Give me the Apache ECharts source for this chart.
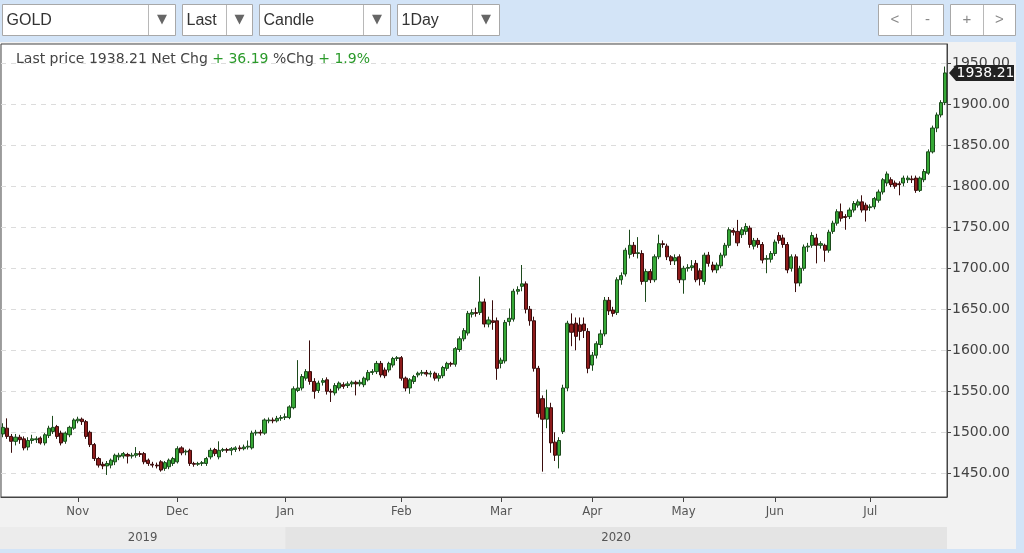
<!DOCTYPE html>
<html><head><meta charset="utf-8">
<script src="https://cdn.jsdelivr.net/npm/echarts@6/dist/echarts.min.js"></script>
<style>html,body{margin:0;padding:0;background:#d3e4f7}#c{width:1024px;height:553px}</style>
</head><body><div id="c"></div><script>
// ---- data ----
const instrument = 'GOLD', priceField = 'Last', chartType = 'Candle', period = '1Day';
const navButtons = ['<', '-', '+', '>'];
const monthNames = ['Nov','Dec','Jan','Feb','Mar','Apr','May','Jun','Jul'];
const monthIdx   = [18, 42, 68, 96, 120, 142, 164, 186, 209];
const yearNames  = ['2019','2020'];
const yearStartIdx = [0, 68];
const yTicks = [1450,1500,1550,1600,1650,1700,1750,1800,1850,1900,1950];
const lastPrice = 1938.21, netChg = 36.19, pctChg = 1.9;
// [open, close, low, high] per daily candle
const candles = [
[1498,1506,1494,1511],[1505,1495,1492,1517],[1495,1489,1475,1498],[1489,1494,1484,1498],[1494,1491,1486,1497],
[1492,1481,1478,1495],[1482,1490,1478,1494],[1490,1492,1486,1497],[1491,1492,1487,1495],[1493,1487,1485,1495],
[1487,1497,1484,1499],[1496,1505,1493,1508],[1501,1506,1498,1520],[1507,1495,1492,1509],[1499,1487,1484,1502],
[1489,1499,1486,1501],[1497,1506,1494,1508],[1505,1515,1503,1517],[1514,1516,1511,1519],[1516,1513,1509,1518],
[1513,1495,1492,1515],[1500,1485,1482,1502],[1485,1468,1465,1487],[1468,1460,1457,1470],[1461,1459,1455,1464],
[1459,1462,1448,1465],[1460,1466,1456,1468],[1464,1472,1460,1474],[1470,1472,1466,1475],[1471,1474,1468,1476],
[1473,1471,1462,1475],[1471,1472,1468,1475],[1472,1474,1469,1482],[1474,1473,1470,1477],[1474,1464,1461,1476],
[1466,1462,1459,1468],[1461,1460,1457,1464],[1460,1459,1456,1463],[1464,1454,1452,1466],[1456,1463,1453,1465],
[1458,1466,1455,1468],[1462,1468,1459,1470],[1464,1480,1462,1483],[1481,1475,1472,1483],[1476,1477,1472,1479],
[1478,1462,1459,1480],[1462,1461,1458,1464],[1461,1462,1459,1464],[1462,1463,1459,1465],[1462,1468,1459,1470],
[1470,1478,1467,1481],[1479,1474,1471,1481],[1470,1478,1467,1489],[1478,1479,1476,1481],[1479,1478,1475,1481],
[1478,1480,1472,1482],[1479,1481,1476,1483],[1481,1480,1477,1484],[1480,1482,1478,1485],[1482,1483,1479,1490],
[1481,1499,1479,1502],[1499,1500,1496,1503],[1500,1499,1496,1503],[1499,1515,1497,1517],[1514,1515,1511,1518],
[1515,1514,1511,1518],[1514,1517,1512,1520],[1517,1518,1514,1521],[1518,1519,1515,1523],[1518,1531,1516,1533],
[1530,1553,1528,1556],[1551,1554,1549,1588],[1554,1568,1551,1571],[1566,1574,1563,1577],[1574,1562,1558,1612],
[1562,1550,1541,1566],[1551,1560,1548,1563],[1561,1563,1557,1566],[1564,1550,1546,1567],[1550,1549,1537,1553],
[1548,1557,1545,1560],[1554,1560,1551,1562],[1558,1556,1553,1561],[1557,1559,1554,1562],[1559,1561,1555,1563],
[1561,1559,1545,1563],[1559,1561,1556,1564],[1558,1566,1555,1568],[1564,1573,1562,1576],[1573,1574,1570,1577],
[1574,1584,1571,1587],[1584,1570,1567,1587],[1576,1569,1566,1579],[1576,1584,1573,1586],[1582,1590,1579,1592],
[1590,1591,1587,1593],[1591,1566,1563,1593],[1566,1554,1550,1568],[1554,1564,1547,1566],[1562,1568,1559,1570],
[1570,1572,1567,1574],[1572,1573,1569,1576],[1573,1571,1568,1576],[1571,1572,1567,1575],[1572,1566,1563,1574],
[1566,1569,1562,1572],[1569,1579,1566,1581],[1578,1584,1575,1586],[1584,1583,1580,1586],[1583,1602,1580,1604],
[1601,1614,1598,1617],[1614,1624,1611,1627],[1621,1645,1618,1648],[1644,1646,1640,1650],[1646,1645,1641,1652],
[1646,1659,1643,1690],[1659,1632,1628,1663],[1632,1637,1628,1641],[1636,1634,1625,1661],[1636,1578,1564,1640],
[1584,1588,1578,1591],[1587,1634,1584,1637],[1635,1639,1630,1651],[1638,1672,1635,1675],[1672,1674,1668,1678],
[1678,1681,1672,1704],[1681,1650,1645,1684],[1650,1636,1630,1654],[1636,1578,1574,1641],[1578,1523,1518,1581],
[1541,1516,1452,1545],[1516,1530,1505,1552],[1530,1487,1475,1536],[1488,1472,1465,1500],[1472,1490,1456,1494],
[1501,1554,1498,1558],[1554,1633,1550,1636],[1632,1622,1605,1645],[1633,1617,1600,1640],[1631,1623,1612,1640],
[1632,1624,1615,1640],[1623,1578,1572,1627],[1582,1594,1575,1598],[1594,1608,1590,1611],[1607,1620,1603,1625],
[1620,1661,1617,1665],[1661,1648,1643,1665],[1649,1645,1641,1653],[1646,1686,1643,1689],[1686,1691,1680,1695],
[1693,1722,1690,1725],[1717,1728,1712,1747],[1728,1718,1714,1732],[1718,1719,1712,1738],[1718,1684,1680,1722],
[1684,1696,1659,1699],[1696,1686,1682,1699],[1686,1714,1683,1717],[1714,1730,1711,1741],[1730,1729,1725,1734],
[1727,1714,1710,1730],[1714,1709,1704,1716],[1709,1713,1704,1717],[1714,1686,1682,1717],[1686,1700,1669,1703],
[1700,1701,1696,1705],[1701,1703,1697,1710],[1706,1686,1683,1710],[1697,1687,1679,1700],[1684,1716,1680,1719],
[1716,1706,1702,1720],[1704,1698,1695,1708],[1698,1704,1694,1707],[1703,1716,1700,1719],[1716,1728,1713,1731],
[1728,1747,1725,1750],[1746,1744,1740,1749],[1745,1731,1727,1759],[1741,1747,1737,1750],[1745,1751,1741,1755],
[1749,1729,1725,1752],[1727,1734,1723,1737],[1734,1729,1725,1737],[1729,1710,1706,1732],[1711,1712,1694,1716],
[1711,1718,1707,1721],[1718,1732,1715,1735],[1740,1734,1730,1744],[1737,1729,1725,1741],[1729,1698,1694,1732],
[1700,1714,1696,1717],[1714,1682,1671,1717],[1682,1700,1678,1703],[1700,1726,1697,1729],[1726,1727,1720,1731],
[1728,1740,1725,1744],[1737,1728,1706,1742],[1728,1730,1724,1733],[1728,1722,1708,1730],[1722,1744,1719,1747],
[1745,1755,1742,1758],[1755,1769,1752,1772],[1769,1761,1757,1779],[1763,1762,1747,1766],[1763,1771,1760,1774],
[1771,1779,1768,1782],[1777,1781,1774,1784],[1781,1771,1768,1789],[1777,1771,1757,1780],[1774,1775,1770,1778],
[1775,1785,1772,1787],[1783,1793,1780,1796],[1793,1808,1790,1810],[1804,1815,1800,1818],[1808,1802,1799,1811],
[1804,1800,1797,1807],[1803,1802,1789,1806],[1804,1810,1800,1813],[1808,1810,1804,1813],[1809,1808,1804,1813],
[1810,1795,1792,1813],[1795,1810,1793,1812],[1808,1818,1805,1821],[1816,1842,1814,1845],[1842,1871,1840,1874],
[1871,1887,1866,1890],[1887,1902.02,1884,1905],[1902,1938.21,1899,1946]
];
const categories = candles.map((_, i) => String(i));

// ---- chart ----
const chart = echarts.init(document.getElementById('c'), null, {renderer: 'canvas'});
const isMonth = (i) => monthIdx.indexOf(i) >= 0;
const GRID = {left: 1, top: 44, width: 946, height: 453};
const green = '#2a9a2a';
const txtFont = "'DejaVu Sans', sans-serif";
const condFont = "'DejaVu Sans Condensed','DejaVu Sans',sans-serif";

const option = {
  animation: false,
  backgroundColor: '#d3e4f7',
  grid: Object.assign({show: true, backgroundColor: '#ffffff', borderColor: '#444', borderWidth: 1, z: 1}, GRID),
  xAxis: {
    type: 'category', data: categories, boundaryGap: true,
    axisLine: {show: true, lineStyle: {color: '#444'}},
    axisTick: {show: true, alignWithLabel: true, interval: (i) => isMonth(i), length: 5, lineStyle: {color: '#444'}},
    axisLabel: {interval: (i) => isMonth(i), margin: 8, color: '#555', fontSize: 13, fontFamily: condFont,
      formatter: (v, i) => monthNames[monthIdx.indexOf(Number(v))] || ''},
    splitLine: {show: true, alignWithLabel: true, interval: (i) => isMonth(i), lineStyle: {color: '#dcdcdc', type: [5, 5]}}
  },
  yAxis: {
    type: 'value', position: 'right', min: 1421.1, max: 1973.5, scale: true,
    axisLine: {show: true, lineStyle: {color: '#444'}},
    axisTick: {show: true, length: 4, customValues: yTicks, lineStyle: {color: '#444'}},
    axisLabel: {customValues: yTicks, margin: 5, color: '#444', fontSize: 14, fontFamily: txtFont,
      formatter: (v) => Number(v).toFixed(2)},
    splitLine: {show: false}
  },
  series: [{
    type: 'candlestick', data: candles, barWidth: 3.6,
    itemStyle: {color: '#36a836', color0: '#8e1b1b', borderColor: '#1c4a1c', borderColor0: '#3a0c0c', borderWidth: 1},
    markLine: {silent: true, symbol: 'none', label: {show: false}, animation: false,
      lineStyle: {color: '#dcdcdc', type: [5, 5], width: 1},
      data: yTicks.map(v => ({yAxis: v}))},
    z: 5
  }]
};
chart.setOption(option);

// ---- frame, toolbar, header, bands, last price tag ----
function drawExtras() {
  const g = [];
  g.push({type: 'rect', z: -10, shape: {x: 0, y: 42, width: 1016, height: 507}, style: {fill: '#f2f2f2'}});
  const xJan = chart.convertToPixel({xAxisIndex: 0}, yearStartIdx[1]);
  const xL = GRID.left, xR = GRID.left + GRID.width;
  const bands = [[xL - 1, xJan, '#ececec'], [xJan, xR, '#e4e4e4']];
  bands.forEach((b, k) => {
    g.push({type: 'rect', z: -5, shape: {x: b[0], y: 527, width: b[1] - b[0], height: 22}, style: {fill: b[2]}});
    g.push({type: 'text', z: 10, x: (b[0] + b[1]) / 2, y: 538,
      style: {text: yearNames[k], fill: '#555', font: "13px " + condFont, align: 'center', verticalAlign: 'middle'}});
  });
  const selects = [[2.5, 173, 148.5, instrument], [182.5, 70, 226.5, priceField], [259.5, 131, 363.5, chartType], [397.5, 102, 472.5, period]];
  selects.forEach(s => {
    g.push({type: 'rect', z: 20, shape: {x: s[0], y: 4.5, width: s[1], height: 31}, style: {fill: '#fff', stroke: '#a8a8a8', lineWidth: 1}});
    g.push({type: 'line', z: 21, shape: {x1: s[2], y1: 5, x2: s[2], y2: 35}, style: {stroke: '#b8b8b8', lineWidth: 1}});
    g.push({type: 'text', z: 22, x: s[0] + 4, y: 20.5, style: {text: s[3], fill: '#333', font: "16px 'Liberation Sans', Arial, sans-serif", verticalAlign: 'middle'}});
    g.push({type: 'text', z: 22, x: (s[2] + s[0] + s[1]) / 2, y: 19.5, style: {text: '\u25BC', fill: '#666', font: "13px 'DejaVu Sans', sans-serif", align: 'center', verticalAlign: 'middle'}});
  });
  const btnGroups = [[878.5, 65, 911.5], [950.5, 65, 983.5]];
  btnGroups.forEach((b, k) => {
    g.push({type: 'rect', z: 20, shape: {x: b[0], y: 4.5, width: b[1], height: 31}, style: {fill: '#fff', stroke: '#a8a8a8', lineWidth: 1}});
    g.push({type: 'line', z: 21, shape: {x1: b[2], y1: 5, x2: b[2], y2: 35}, style: {stroke: '#b8b8b8', lineWidth: 1}});
    g.push({type: 'text', z: 22, x: (b[0] + b[2]) / 2, y: 20, style: {text: navButtons[2 * k], fill: '#888', font: "15px 'Liberation Sans', sans-serif", align: 'center', verticalAlign: 'middle'}});
    g.push({type: 'text', z: 22, x: (b[2] + b[0] + b[1]) / 2, y: 20, style: {text: navButtons[2 * k + 1], fill: '#888', font: "15px 'Liberation Sans', sans-serif", align: 'center', verticalAlign: 'middle'}});
  });
  const sgn = (v) => (v >= 0 ? '+' : '-');
  g.push({type: 'text', z: 30, x: 16, y: 59, style: {
    text: '{a|Last price ' + lastPrice.toFixed(2) + ' Net Chg }{b|' + sgn(netChg) + ' ' + Math.abs(netChg).toFixed(2) + '}{a| %Chg }{b|' + sgn(pctChg) + ' ' + Math.abs(pctChg).toFixed(1) + '%}',
    verticalAlign: 'middle',
    rich: {a: {fill: '#444', font: "14px " + txtFont}, b: {fill: green, font: "14px " + txtFont}}
  }});
  const yc = chart.convertToPixel({yAxisIndex: 0}, lastPrice);
  g.push({type: 'polygon', z: 30, shape: {points: [[949, yc], [956, yc - 8], [1014, yc - 8], [1014, yc + 8], [956, yc + 8]]}, style: {fill: '#222'}});
  g.push({type: 'text', z: 31, x: 985.5, y: yc + 0.5, style: {text: lastPrice.toFixed(2), fill: '#fff', font: "14px " + txtFont, align: 'center', verticalAlign: 'middle'}});
  chart.setOption({graphic: {elements: g}});
}
drawExtras();
</script></body></html>
